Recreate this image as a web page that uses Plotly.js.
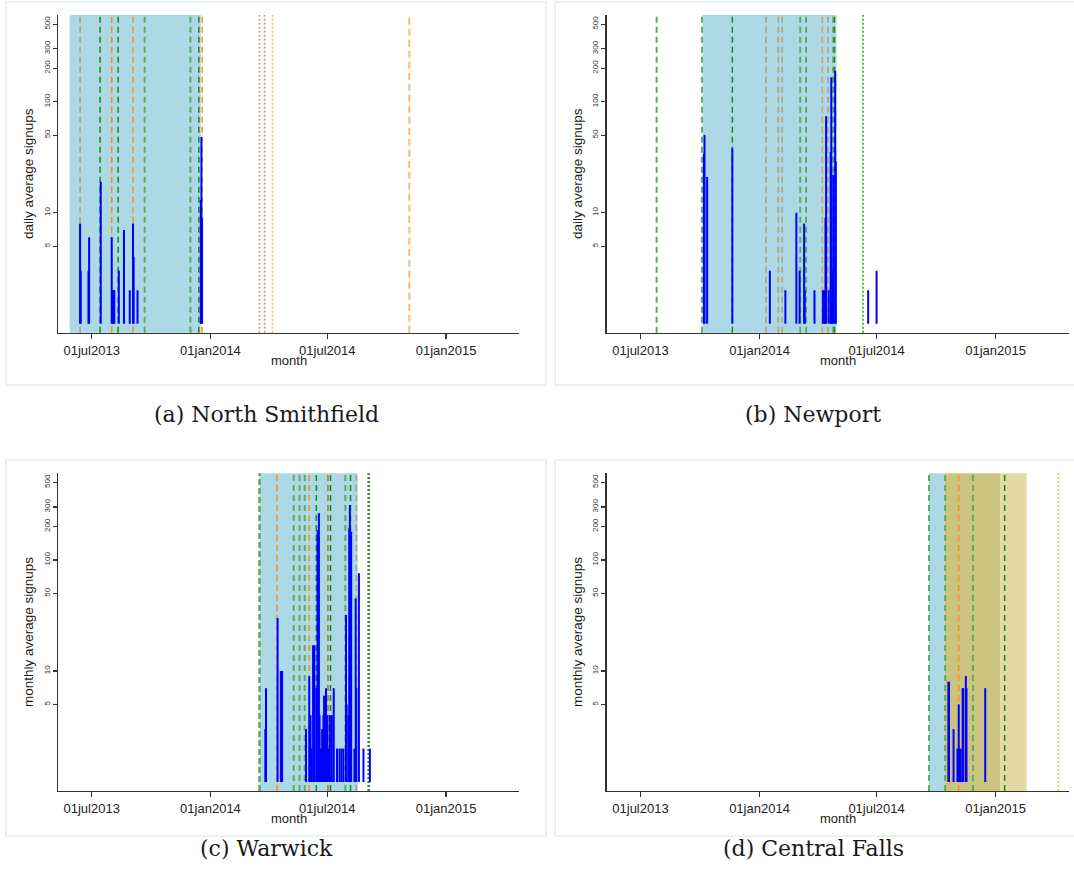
<!DOCTYPE html>
<html><head><meta charset="utf-8">
<script src="https://cdn.plot.ly/plotly-3.0.1.min.js"></script>
<style>html,body{margin:0;padding:0;background:#fff}#c{width:1074px;height:890px}</style>
</head><body><div id="c"></div>
<script>
// ---------- DATA ----------
const tickDates = ['2013-07-01','2014-01-01','2014-07-01','2015-01-01'];
const tickLabels = ['01jul2013','01jan2014','01jul2014','01jan2015'];
const yTicks = [5,10,50,100,200,300,500];

// (a) North Smithfield - daily
const aDates = ['2013-06-13','2013-06-14','2013-06-26','2013-06-27','2013-07-15','2013-08-01','2013-08-02','2013-08-03','2013-08-04','2013-08-05','2013-08-12','2013-08-20','2013-08-29','2013-09-03','2013-09-04','2013-09-10','2013-12-17','2013-12-18','2013-12-19'];
const aValues = [8,3,3,6,19,6,2,2,2,2,3,7,2,8,4,2,13,48,9];
const aShadeStart = ['2013-05-28'];
const aShadeEnd = ['2013-12-17'];
const aShadeKind = ['blue'];
const aLineDates = ['2013-06-13','2013-07-14','2013-08-01','2013-08-11','2013-09-03','2013-09-21','2013-12-01','2013-12-14','2013-12-19','2014-03-18','2014-03-26','2014-04-07','2014-11-05'];
const aLineKinds = ['tan','dg','or','dg','or','mg','mg','dg','or','tanDot','tanDot','orDot','lo'];

// (b) Newport - daily
const bDates = ['2013-10-07','2013-10-08','2013-10-12','2013-11-20','2014-01-17','2014-02-10','2014-02-27','2014-03-04','2014-03-11','2014-03-12','2014-03-27','2014-04-09','2014-04-11','2014-04-13','2014-04-14','2014-04-18','2014-04-21','2014-04-22','2014-04-23','2014-04-25','2014-04-28','2014-04-29','2014-06-18','2014-07-01'];
const bValues = [34,50,21,38,3,2,10,3,8,2,2,2,2,9,74,2,35,166,3,22,190,29,2,3];
const bShadeStart = ['2013-10-05'];
const bShadeEnd = ['2014-04-30'];
const bShadeKind = ['blue'];
const bLineDates = ['2013-07-26','2013-10-04','2013-11-20','2014-01-11','2014-01-30','2014-02-05','2014-03-05','2014-03-14','2014-04-08','2014-04-17','2014-04-25','2014-04-27','2014-06-10'];
const bLineKinds = ['mg','mg','dg','tan','tan','tan','mg','mg','tanOr','tan','mg','dg','dgDot'];

// (c) Warwick - monthly
const cDates = ['2014-03-27','2014-03-28','2014-04-15','2014-04-20','2014-04-22','2014-05-29','2014-06-03','2014-06-05','2014-06-06','2014-06-09','2014-06-10','2014-06-11','2014-06-14','2014-06-16','2014-06-18','2014-06-19','2014-06-21','2014-06-23','2014-06-25','2014-06-26','2014-06-29','2014-07-01','2014-07-03','2014-07-05','2014-07-08','2014-07-11','2014-07-16','2014-07-20','2014-07-23','2014-07-26','2014-07-30','2014-07-31','2014-08-03','2014-08-04','2014-08-05','2014-08-07','2014-08-12','2014-08-14','2014-08-15','2014-08-19','2014-08-26','2014-09-05'];
const cValues = [3,7,30,10,10,3,9,4,2,17,17,17,7,186,264,4,2,3,4,6,7,4,2,4,4,7,2,2,2,2,32,5,4,195,313,180,2,45,7,76,2,2];
const cShadeStart = ['2014-03-18'];
const cShadeEnd = ['2014-08-17'];
const cShadeKind = ['blue'];
const cLineDates = ['2014-03-18','2014-04-14','2014-05-10','2014-05-19','2014-05-27','2014-06-03','2014-06-14','2014-07-02','2014-07-06','2014-07-29','2014-08-06','2014-08-15','2014-09-03'];
const cLineKinds = ['mgThick','or','mg','mg','mg','or','dg','olive','dg','mg','dg','tan','dgDotThick'];

// (d) Central Falls - monthly
const dDates = ['2014-10-20','2014-10-21','2014-10-28','2014-11-03','2014-11-05','2014-11-06','2014-11-08','2014-11-11','2014-11-12','2014-11-16','2014-11-17','2014-12-16'];
const dValues = [8,8,3,2,5,2,2,7,7,9,7,7];
const dShadeStart = ['2014-09-20','2014-10-14','2015-01-08'];
const dShadeEnd = ['2014-10-14','2015-01-08','2015-02-18'];
const dShadeKind = ['blue','khakiDark','khakiLight'];
const dLineDates = ['2014-09-20','2014-10-15','2014-11-05','2014-11-27','2015-01-15','2015-04-08'];
const dLineKinds = ['mg','mg','or','mg','dg','orDot'];

// ---------- STYLES ----------
const lineStyles = {
  dg:{color:'#178a17',dash:'6px,4px',width:1.5},
  dgDot:{color:'#2a8c2a',dash:'2px,2px',width:1.5},
  dgDotThick:{color:'#2a8023',dash:'2px,2px',width:2.5},
  mg:{color:'#5dab5d',dash:'6px,4px',width:2},
  mgThick:{color:'#5fac5f',dash:'6px,3px',width:2.6},
  or:{color:'#ff8c14',dash:'6px,4px',width:1.5},
  orDot:{color:'#ffb468',dash:'2px,2px',width:1.6},
  lo:{color:'#ffb873',dash:'7px,4px',width:2},
  tan:{color:'#b3a074',dash:'6px,4px',width:1.6},
  tanOr:{color:'#d4a670',dash:'6px,4px',width:1.8},
  olive:{color:'#a58d30',dash:'6px,4px',width:1.8},
  tanDot:{color:'#bca676',dash:'2px,2px',width:1.6}
};
const shadeColors = {blue:'#add8e6', khakiDark:'#cbc380', khakiLight:'#e4daa5'};

const W = 1074, H = 890;
const px = v => v / W, py = v => 1 - v / H;

const xDomL = [px(58), px(519)], xDomR = [px(606.7), px(1068.7)];
const yDomT = [py(332.7), py(15)], yDomB = [py(791), py(473.3)];
const xRange = ['2013-05-09 19:00','2015-04-24'];
const yRange = [-0.081, 2.781];

function spikes(dates, vals, xa, ya){
  const x = [], y = [];
  dates.forEach((d,i)=>{ x.push(d,d,null); y.push(1, vals[i], null); });
  return {type:'scatter', mode:'lines', x, y, xaxis:xa, yaxis:ya,
    line:{color:'#0000ff', width:2}, hoverinfo:'skip', showlegend:false, connectgaps:false};
}
const shapes = [];
function addPanel(sStart, sEnd, sKind, lDates, lKinds, xr, yr){
  sStart.forEach((s,i)=>shapes.push({type:'rect', xref:xr, yref:yr+' domain', x0:s, x1:sEnd[i], y0:0, y1:1,
    fillcolor:shadeColors[sKind[i]], line:{width:0}, layer:'below'}));
  lDates.forEach((d,i)=>{ const st = lineStyles[lKinds[i]];
    shapes.push({type:'line', xref:xr, yref:yr+' domain', x0:d, x1:d, y0:0, y1:1,
      line:{color:st.color, dash:st.dash, width:st.width}, layer:'below'}); });
}
addPanel(aShadeStart,aShadeEnd,aShadeKind,aLineDates,aLineKinds,'x','y');
addPanel(bShadeStart,bShadeEnd,bShadeKind,bLineDates,bLineKinds,'x2','y2');
addPanel(cShadeStart,cShadeEnd,cShadeKind,cLineDates,cLineKinds,'x3','y3');
addPanel(dShadeStart,dShadeEnd,dShadeKind,dLineDates,dLineKinds,'x4','y4');

// panel frames
const frames = [[6,2,546,385],[555,2,1080,385],[6,460,546,836],[555,460,1080,836]];
frames.forEach(f=>shapes.push({type:'rect', xref:'paper', yref:'paper', x0:px(f[0]), x1:px(f[2]), y0:py(f[3]), y1:py(f[1]),
  line:{color:'#e6eded', width:1.5}, fillcolor:'rgba(0,0,0,0)', layer:'below'}));

const font = 'Liberation Sans, Arial, sans-serif';
function xAx(dom, anchor){
  return {domain:dom, anchor, type:'date', range:xRange, tickmode:'array', tickvals:tickDates, ticktext:tickLabels,
    ticks:'outside', ticklen:5, tickwidth:1.2, tickcolor:'#333', showline:true, linecolor:'#333', linewidth:1.3,
    showgrid:false, zeroline:false, tickfont:{family:font, size:13, color:'#222'}, fixedrange:true};
}
function yAx(dom, anchor){
  return {domain:dom, anchor, type:'log', range:yRange, tickmode:'array', tickvals:yTicks, ticktext:yTicks.map(String),
    tickangle:-90, ticks:'outside', ticklen:4, tickwidth:1.2, tickcolor:'#333', showline:true, linecolor:'#333', linewidth:1.3,
    showgrid:false, zeroline:false, tickfont:{family:font, size:8, color:'#333'}, fixedrange:true};
}

const ann = [];
function txt(x,y,t,size,fam,angle){ ann.push({xref:'paper',yref:'paper',x:px(x),y:py(y),text:t,showarrow:false,
  xanchor:'center',yanchor:'middle',textangle:angle||0,font:{family:fam,size,color:'#1a1a1a'}}); }
txt(288.5,360,'month',13,font); txt(837.7,360,'month',13,font);
txt(288.5,818,'month',13,font); txt(837.7,818,'month',13,font);
txt(28,174,'daily average signups',13.5,font,-90); txt(577,174,'daily average signups',13.5,font,-90);
txt(28,632,'monthly average signups',13.5,font,-90); txt(577,632,'monthly average signups',13.5,font,-90);
const serif = 'DejaVu Serif, serif';
txt(266,415,'(a) North Smithfield',22,serif); txt(813,415,'(b) Newport',22,serif);
txt(266,848,'(c) Warwick',22,serif); txt(813,848,'(d) Central Falls',22,serif);

const data = [
  spikes(aDates,aValues,'x','y'), spikes(bDates,bValues,'x2','y2'),
  spikes(cDates,cValues,'x3','y3'), spikes(dDates,dValues,'x4','y4')
];
const layout = {
  width:W, height:H, margin:{l:0,r:0,t:0,b:0}, paper_bgcolor:'#fff', plot_bgcolor:'rgba(0,0,0,0)',
  showlegend:false,
  xaxis:xAx(xDomL,'y'), yaxis:yAx(yDomT,'x'),
  xaxis2:xAx(xDomR,'y2'), yaxis2:yAx(yDomT,'x2'),
  xaxis3:xAx(xDomL,'y3'), yaxis3:yAx(yDomB,'x3'),
  xaxis4:xAx(xDomR,'y4'), yaxis4:yAx(yDomB,'x4'),
  shapes, annotations:ann
};
Plotly.newPlot('c', data, layout, {staticPlot:true, displayModeBar:false});
</script></body></html>
